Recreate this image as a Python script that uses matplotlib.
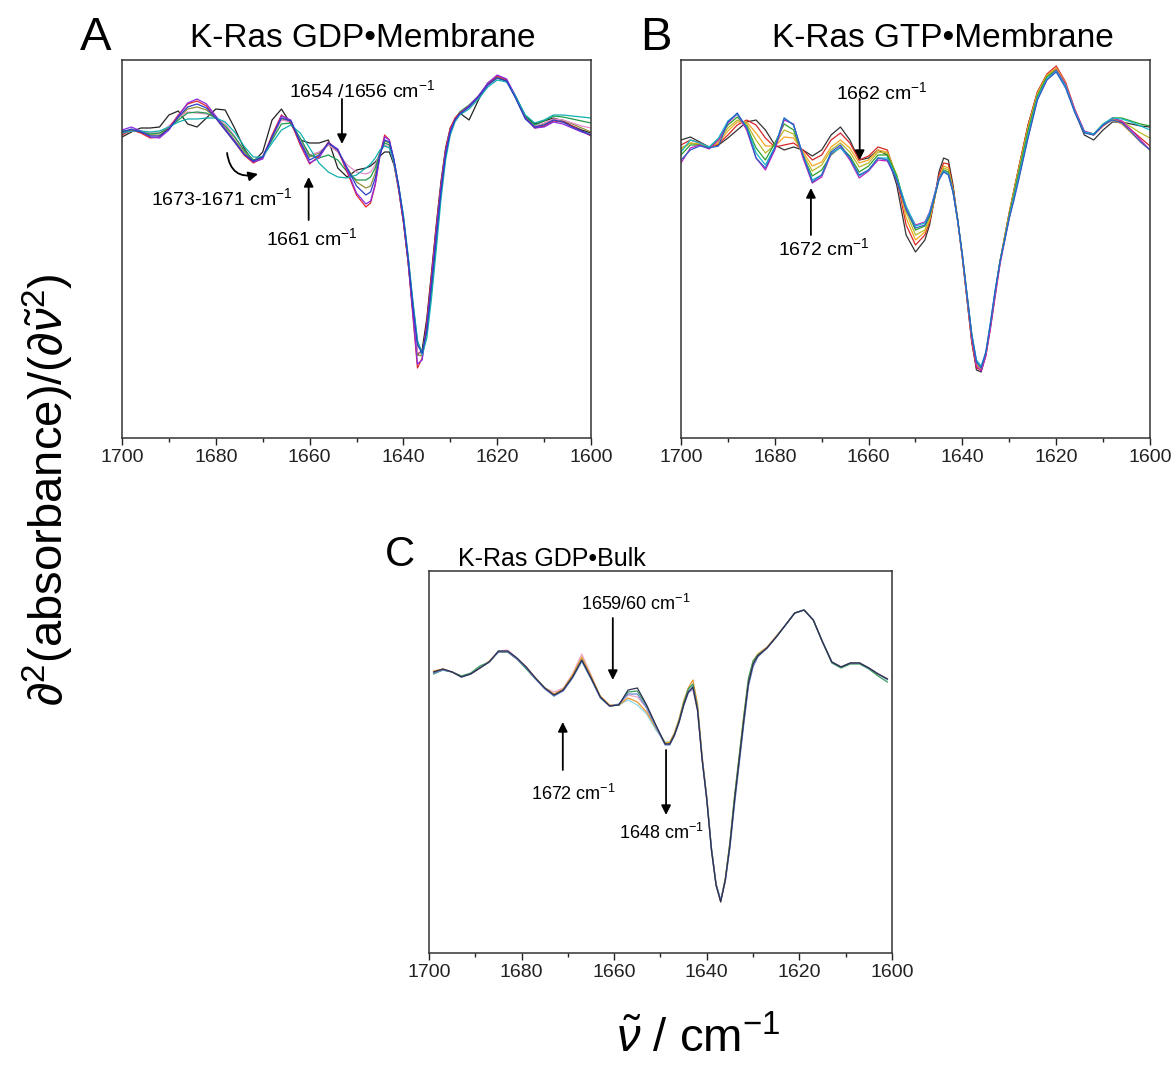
import matplotlib
matplotlib.use('Agg')
import matplotlib.pyplot as plt
from matplotlib.ticker import MultipleLocator
from matplotlib.patches import FancyArrowPatch

plt.rcParams['font.family'] = ['Liberation Sans', 'DejaVu Sans']
plt.rcParams['mathtext.fontset'] = 'custom'
plt.rcParams['mathtext.rm'] = 'Liberation Sans'
plt.rcParams['mathtext.it'] = 'Liberation Sans:italic'
plt.rcParams['mathtext.bf'] = 'Liberation Sans:bold'

# ---------------- data ----------------
wn_AB = [1700,1698,1696,1694,1692,1690,1688,1686,1684,1682,1680,1678,1676,1674,1672,1670,1668,1666,1664,1662,
         1660,1658,1656,1654,1652,1650,1648,1647,1646,1645,1644,1643,1642,1641,1640,1639,1638,1637,1636,1635,
         1634,1633,1632,1631,1630,1629,1628,1626,1624,1622,1620,1618,1616,1614,1612,1610,1608,1606,1604,1602,1600]

wn_C = [1699,1697,1695,1693,1691,1689,1687,1685,1683,1681,1679,1677,1675,1673,1671,1669,1667,1665,1663,1661,
        1659,1657,1655,1653,1651,1649,1648,1647,1646,1645,1644,1643,1642,1641,1640,1639,1638,1637,1636,1635,
        1634,1633,1632,1631,1630,1629,1627,1625,1623,1621,1619,1617,1615,1613,1611,1609,1607,1605,1603,1601]

# Panel A: K-Ras GDP / membrane (second derivative, a.u.)
gdp_mem_black = [113,118,122,122,123,135,139,126,123,132,141,140,122,102,88,98,130,141,126,110,107,107,110,82,73,80,82,
                 84,88,94,98,98,85,60,28,-12,-60,-105,-100,-68,-22,25,68,102,122,130,
                 137,130,150,167,173,170,153,134,126,129,132,129,124,120,117]
gdp_mem_olive = [117,120,118,115,115,122,132,141,143,140,132,122,110,98,89,93,112,131,129,109,93,97,105,99,82,68,62,
                 64,77,97,109,107,89,62,30,-10,-58,-105,-106,-76,-30,18,62,98,121,131,
                 136,143,153,165,173,170,152,132,123,126,131,130,126,122,118]
gdp_mem_pink = [116,119,119,117,117,124,133,138,137,136,133,126,114,100,90,94,113,130,128,110,95,98,105,98,85,78,76,
                78,85,98,105,103,87,61,30,-10,-58,-102,-105,-78,-32,16,62,98,120,130,
                136,143,153,165,172,169,152,132,124,127,131,130,127,124,122]
gdp_mem_green = [119,120,118,116,117,122,130,137,138,137,132,124,113,100,90,93,110,126,127,112,95,92,95,90,78,70,70,
                 73,82,97,107,105,89,63,33,-7,-52,-92,-102,-82,-40,8,56,94,119,131,
                 138,145,154,166,172,169,152,133,125,129,134,133,131,129,127]
gdp_mem_red = [115,120,117,112,113,122,135,146,149,144,132,120,108,95,87,92,115,135,128,105,86,94,108,100,78,55,43,
               47,65,95,115,110,88,60,28,-12,-65,-118,-108,-72,-25,22,65,100,122,132,
               137,144,154,166,174,170,152,132,122,124,129,128,124,119,114]
gdp_mem_purple = [120,123,119,113,112,120,134,147,151,146,134,121,109,96,88,91,113,134,130,107,87,92,107,101,80,57,46,
                  49,66,94,113,110,90,62,30,-10,-62,-114,-110,-76,-30,18,62,98,120,130,
                  136,144,154,167,175,171,153,132,122,123,128,126,122,118,115]
gdp_mem_teal = [117,119,119,118,119,123,128,131,131,132,132,128,118,104,93,93,107,120,125,117,102,87,78,73,72,75,82,
                86,92,100,104,102,88,64,35,-5,-50,-90,-105,-88,-48,0,50,90,115,128,
                135,141,151,163,170,168,153,135,127,130,135,135,134,133,132]
gdp_mem_blue = [118,121,118,114,114,121,133,143,146,142,132,120,108,96,89,93,113,132,129,108,90,95,107,100,82,64,55,
                58,72,95,110,108,90,64,32,-8,-55,-95,-103,-80,-35,12,58,95,118,130,
                136,143,153,165,172,169,151,131,123,125,130,128,123,119,115]

# Panel B: K-Ras GTP / membrane
gtp_mem_black = [110,113,108,103,105,112,120,128,130,120,105,100,103,100,94,100,115,123,110,90,92,100,95,65,15,-2,10,
                 25,50,78,92,90,65,30,-8,-50,-92,-120,-122,-105,-75,-42,-12,13,37,60,
                 82,125,158,175,181,165,138,115,110,120,128,128,126,124,123]
gtp_mem_red = [105,110,107,103,106,115,125,130,125,112,103,105,107,100,90,95,110,117,107,90,94,103,100,72,25,5,15,
               28,50,75,87,86,62,29,-8,-50,-92,-118,-120,-105,-76,-44,-12,13,38,60,
               82,125,158,176,184,168,140,118,115,124,131,128,120,112,104]
gtp_mem_orange = [100,107,106,102,107,119,128,128,117,104,104,113,112,98,84,88,103,110,102,87,90,100,98,74,32,10,18,
                  30,50,72,84,82,60,28,-8,-48,-88,-115,-119,-105,-77,-45,-14,12,37,59,
                  81,123,157,175,182,167,140,118,116,125,130,126,117,108,100]
gtp_mem_olive = [102,107,105,102,109,122,130,126,110,97,105,120,116,96,79,85,100,107,98,83,87,98,97,75,38,15,20,
                 32,51,71,82,80,60,30,-6,-46,-86,-113,-118,-104,-76,-44,-13,12,36,58,
                 79,121,155,174,181,166,139,118,116,125,131,129,123,117,112]
gtp_mem_green = [95,105,105,102,111,125,133,124,102,90,107,126,120,94,74,80,95,103,94,78,84,95,95,74,42,20,24,
                 34,52,70,80,78,59,30,-5,-45,-85,-112,-118,-104,-75,-42,-12,11,35,56,
                 77,119,154,173,180,165,138,118,116,126,132,132,129,126,124]
gtp_mem_teal = [98,110,107,103,112,129,136,123,97,85,103,132,125,95,70,75,97,102,92,74,80,92,92,72,44,24,27,
                37,54,71,79,76,58,29,-6,-46,-84,-110,-116,-102,-72,-40,-12,10,33,53,
                73,115,152,171,179,164,138,118,116,126,132,131,128,124,120]
gtp_mem_blue = [90,100,104,102,104,128,137,122,92,82,102,132,125,95,68,75,98,105,92,75,80,92,90,70,40,22,25,
                35,52,70,78,75,58,30,-5,-45,-85,-112,-118,-102,-72,-40,-12,9,32,50,
                70,112,150,170,178,162,137,117,115,125,130,127,118,108,100]
gtp_mem_magenta = [87,102,105,101,110,127,136,120,92,80,100,130,126,92,67,73,96,103,90,72,79,90,89,70,42,25,28,
                   38,55,72,79,76,58,29,-7,-48,-88,-116,-121,-106,-78,-46,-15,9,32,52,
                   72,113,151,170,180,166,140,119,116,125,132,129,120,110,100]

# Panel C: K-Ras GDP / bulk
gdp_bulk_pink = [88,91,88,83,86,92,98,109,110,102,93,82,72,68,72,86,106,85,63,54,55,65,63,52,33,16,
                 16,25,38,55,68,70,48,-1,-41,-91,-126,-142,-121,-86,-41,-1,39,76,95,
                 104,112,123,135,147,150,140,118,98,93,97,97,92,86,81]
gdp_bulk_cyan = [88,90,88,83,86,92,98,109,108,101,92,82,72,65,70,82,98,81,63,54,55,60,55,46,30,18,
                 18,27,40,57,70,75,52,2,-39,-89,-124,-140,-119,-84,-40,1,41,78,97,
                 104,112,123,135,147,150,140,118,98,93,97,97,92,86,80]
gdp_bulk_orange = [89,91,88,84,86,92,99,108,108,101,93,82,72,66,71,85,103,84,64,55,55,62,58,48,32,17,
                   18,27,41,59,72,80,56,4,-37,-88,-124,-141,-118,-82,-36,4,45,80,99,
                   106,113,124,135,147,150,140,118,98,93,97,97,92,86,81]
gdp_bulk_green = [86,90,88,84,87,94,98,108,108,101,91,81,72,64,70,83,100,82,63,54,55,68,69,54,34,16,
                  16,25,39,57,71,76,52,1,-39,-89,-125,-141,-119,-82,-36,4,44,82,99,
                  105,112,123,135,147,150,140,118,97,92,96,96,91,84,78]
gdp_bulk_blue = [87,90,88,83,86,92,98,108,108,101,92,81,71,64,69,82,99,81,62,54,56,66,66,52,33,15,
                 15,24,37,54,67,72,50,1,-38,-88,-124,-140,-121,-88,-44,-4,36,74,93,
                 103,112,123,135,147,150,140,118,98,93,97,97,92,86,81]
gdp_bulk_dark = [88,91,88,83,86,92,98,109,109,102,93,82,72,65,70,83,100,82,63,54,55,70,72,55,35,16,
                 16,25,38,55,68,73,50,0,-40,-90,-125,-142,-120,-85,-40,0,40,77,96,
                 104,112,123,135,147,150,140,118,98,93,97,97,92,86,81]

ticks_wn = [1700, 1680, 1660, 1640, 1620, 1600]

# ---------------- figure ----------------
fig = plt.figure(figsize=(11.76, 10.76), dpi=100)
W, H = 1176.0, 1076.0

def add_ax(l, t, r, b):
    return fig.add_axes([l / W, 1 - b / H, (r - l) / W, (b - t) / H])

axA = add_ax(122, 60, 591, 438)
axB = add_ax(681, 60, 1150, 438)
axC = add_ax(429, 571, 892, 953)

def style(ax, ylim):
    ax.set_xlim(1700, 1600)
    ax.set_ylim(*ylim)
    ax.set_xticks(ticks_wn)
    ax.set_xticklabels([str(t) for t in ticks_wn])
    ax.xaxis.set_minor_locator(MultipleLocator(10))
    ax.tick_params(axis='x', which='major', direction='out', length=5, width=1.0,
                   labelsize=14, pad=3, colors='#222222')
    ax.tick_params(axis='x', which='minor', direction='out', length=3, width=1.0, colors='#222222')
    ax.set_yticks([])
    for s in ax.spines.values():
        s.set_linewidth(1.1)
        s.set_color('#333333')

lw = 0.9
seriesA = [(gdp_mem_black, '#222222'), (gdp_mem_olive, '#8f8f3a'), (gdp_mem_pink, '#e58ac8'),
           (gdp_mem_green, '#1f9a4a'), (gdp_mem_red, '#e3262a'), (gdp_mem_purple, '#8a2be2'),
           (gdp_mem_teal, '#10b0b0'), (gdp_mem_blue, '#2a3fc8')]
for vals, c in seriesA:
    axA.plot(wn_AB, vals, color=c, lw=lw)

seriesB = [(gtp_mem_black, '#333333'), (gtp_mem_red, '#d62728'), (gtp_mem_orange, '#f5a623'),
           (gtp_mem_olive, '#b8b82a'), (gtp_mem_green, '#2ca02c'), (gtp_mem_magenta, '#c21ec2'),
           (gtp_mem_teal, '#17b8c8'), (gtp_mem_blue, '#2c5fc8')]
for vals, c in seriesB:
    axB.plot(wn_AB, vals, color=c, lw=lw)

seriesC = [(gdp_bulk_pink, '#e8a8c8'), (gdp_bulk_cyan, '#8fd8e8'), (gdp_bulk_orange, '#e8962e'),
           (gdp_bulk_green, '#3a9a60'), (gdp_bulk_blue, '#6a86d0'), (gdp_bulk_dark, '#2e2e50')]
for vals, c in seriesC:
    axC.plot(wn_C, vals, color=c, lw=lw)

style(axA, (-188, 190))
style(axB, (-188, 190))
style(axC, (-193, 189))

# ---------------- annotations ----------------
arrow_kw = dict(arrowstyle='-|>', color='black', lw=1.3, mutation_scale=14, shrinkA=0, shrinkB=0)
fs_ann = 14

def arrow(ax, x, y0, y1):
    ax.annotate('', xy=(x, y1), xytext=(x, y0), arrowprops=arrow_kw)

# A
axA.text(1648.9, 160, '1654 /1656 cm$^{-1}$', ha='center', va='center', fontsize=fs_ann)
arrow(axA, 1653.1, 151, 106)
axA.text(1678.7, 52, '1673-1671 cm$^{-1}$', ha='center', va='center', fontsize=fs_ann)
axA.add_patch(FancyArrowPatch((1677.6, 97), (1671.0, 76), connectionstyle='arc3,rad=0.55',
                              arrowstyle='-|>', mutation_scale=14, lw=1.3, color='black',
                              shrinkA=0, shrinkB=0))
axA.text(1659.5, 12, '1661 cm$^{-1}$', ha='center', va='center', fontsize=fs_ann)
arrow(axA, 1660.2, 30, 73)

# B
axB.text(1657.2, 158, '1662 cm$^{-1}$', ha='center', va='center', fontsize=fs_ann)
arrow(axB, 1661.9, 151, 90)
axB.text(1669.5, 2, '1672 cm$^{-1}$', ha='center', va='center', fontsize=fs_ann)
arrow(axB, 1672.3, 15, 62)

# C
fs_c = 13
axC.text(1655.3, 156, '1659/60 cm$^{-1}$', ha='center', va='center', fontsize=fs_c)
arrow(axC, 1660.3, 142, 80)
axC.text(1668.9, -34, '1672 cm$^{-1}$', ha='center', va='center', fontsize=fs_c)
arrow(axC, 1671.1, -10, 38)
axC.text(1649.7, -73, '1648 cm$^{-1}$', ha='center', va='center', fontsize=fs_c)
arrow(axC, 1648.8, 10, -55)

# ---------------- titles & labels ----------------
fig.text(80 / W, 1 - 50 / H, 'A', ha='left', va='baseline', fontsize=34)
fig.text(363 / W, 1 - 47 / H, 'K-Ras GDP\u2022Membrane', ha='center', va='baseline', fontsize=24)
fig.text(640 / W, 1 - 50 / H, 'B', ha='left', va='baseline', fontsize=34)
fig.text(943 / W, 1 - 47 / H, 'K-Ras GTP\u2022Membrane', ha='center', va='baseline', fontsize=24)
fig.text(385 / W, 1 - 566 / H, 'C', ha='left', va='baseline', fontsize=30)
fig.text(552 / W, 1 - 566 / H, 'K-Ras GDP\u2022Bulk', ha='center', va='baseline', fontsize=18)

fig.text(48 / W, 1 - 490 / H, r'$\partial^2$(absorbance)/($\partial\tilde{\nu}^2$)',
         rotation=90, ha='center', va='center', fontsize=34)
fig.text(698 / W, 1 - 1040 / H, r'$\tilde{\nu}$ / cm$^{-1}$', ha='center', va='center', fontsize=34)

fig.savefig('out.png', dpi=100)
